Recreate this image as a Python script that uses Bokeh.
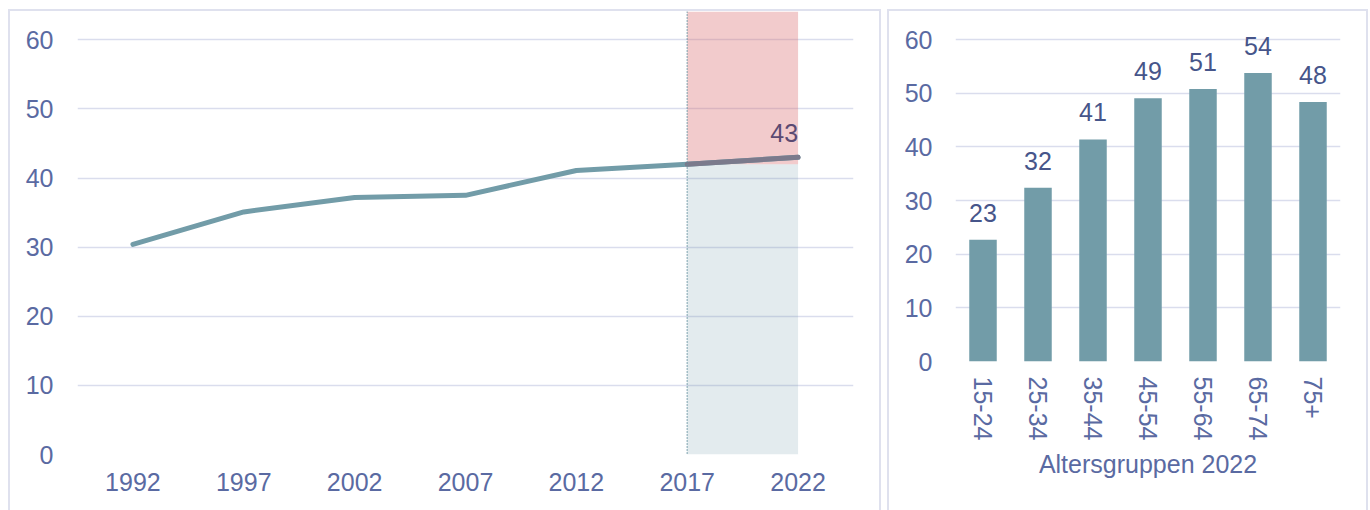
from bokeh.plotting import figure
from bokeh.layouts import row, column
from bokeh.models import Range1d, FixedTicker, Span, ColumnDataSource, FactorRange
from bokeh.core.properties import value
from bokeh.embed import file_html
from bokeh.resources import INLINE

# ---- data ----
years = [1992, 1997, 2002, 2007, 2012, 2017, 2022]
share = [30.4, 35.1, 37.2, 37.5, 41.1, 42.0, 43.0]
highlight_start = 2017
highlight_end = 2022

age_groups = ["15-24", "25-34", "35-44", "45-54", "55-64", "65-74", "75+"]
age_share = [22.7, 32.4, 41.4, 49.1, 50.8, 53.8, 48.4]
x_axis_title = "Altersgruppen 2022"

FONT = "Liberation Sans"
TICK_COL = "#5a6aa2"
LABEL_COL = "#46558a"
GRID_COL = "#dadded"
LINE_COL = "#729ca8"
BORDER = "2px solid #dfe1ee"

def style_common(p):
    p.toolbar_location = None
    p.outline_line_color = None
    p.background_fill_color = "white"
    p.border_fill_color = "white"
    for ax in (p.xaxis, p.yaxis):
        ax.axis_line_color = None
        ax.major_tick_line_color = None
        ax.minor_tick_line_color = None
        ax.major_label_text_font = FONT
        ax.major_label_text_font_size = "25px"
        ax.major_label_text_color = TICK_COL
    p.xgrid.grid_line_color = None
    p.ygrid.grid_line_color = GRID_COL
    p.ygrid.grid_line_width = 1.6
    p.styles = {"border-top": BORDER, "border-left": BORDER, "border-right": BORDER}

# ---- left: time series ----
y_top = 64.1
p1 = figure(frame_width=772, frame_height=441, output_backend="svg", toolbar_location=None,
            x_range=Range1d(1989.5, 2024.5), y_range=Range1d(0, y_top),
            min_border_left=67, min_border_right=30, min_border_top=0, min_border_bottom=58)
style_common(p1)
p1.xaxis.ticker = FixedTicker(ticks=years)
p1.yaxis.ticker = FixedTicker(ticks=[0, 10, 20, 30, 40, 50, 60])
p1.xaxis.major_label_standoff = 12
p1.yaxis.major_label_standoff = 18

split = share[years.index(highlight_start)]
i0 = years.index(highlight_start)
p1.quad(left=[highlight_start], right=[highlight_end], bottom=[0], top=[split],
        fill_color=LINE_COL, fill_alpha=0.2, line_color=None)
p1.quad(left=[highlight_start], right=[highlight_end], bottom=[split], top=[y_top],
        fill_color="#da6a6c", fill_alpha=0.35, line_color=None)
p1.line(years, share, line_color=LINE_COL, line_width=5, line_cap="round", line_join="round")
p1.line(years[i0:], share[i0:], line_color="#7b7a8c", line_width=5, line_cap="round")
p1.add_layout(Span(location=highlight_start, dimension="height", line_color="#5f8d9b",
                   line_width=1.6, line_dash="1 2"))
p1.text(x=[years[-1]], y=[share[-1]], text=[f"{share[-1]:.0f}"], text_align="right",
        text_baseline="alphabetic", y_offset=-24, text_font=value(FONT),
        text_font_size="25px", text_color="#5b4a72")

# ---- right: bar chart ----
y_top2 = 65.25
p2 = figure(frame_width=381, frame_height=348, output_backend="svg", toolbar_location=None,
            x_range=FactorRange(*age_groups), y_range=Range1d(0, y_top2),
            min_border_left=66, min_border_right=30, min_border_top=0, min_border_bottom=151)
style_common(p2)
p2.yaxis.ticker = FixedTicker(ticks=[0, 10, 20, 30, 40, 50, 60])
p2.yaxis.major_label_standoff = 17
p2.xaxis.major_label_orientation = "vertical"
p2.xaxis.major_label_standoff = 9
p2.xaxis.axis_label = x_axis_title
p2.xaxis.axis_label_text_font = FONT
p2.xaxis.axis_label_text_font_size = "25px"
p2.xaxis.axis_label_text_font_style = "normal"
p2.xaxis.axis_label_text_color = TICK_COL
p2.xaxis.axis_label_standoff = 7

src = ColumnDataSource(dict(x=age_groups, y=age_share, lab=[f"{v:.0f}" for v in age_share]))
p2.vbar(x="x", top="y", width=0.5, source=src, fill_color=LINE_COL, line_color=None)
p2.text(x="x", y="y", text="lab", source=src, text_align="center", text_baseline="alphabetic",
        y_offset=-27, text_font=value(FONT), text_font_size="25px", text_color=LABEL_COL)

layout = row(column(p1), column(p2), spacing=6, margin=(9, 0, 0, 8))
open("out.html", "w").write(file_html(layout, INLINE))
